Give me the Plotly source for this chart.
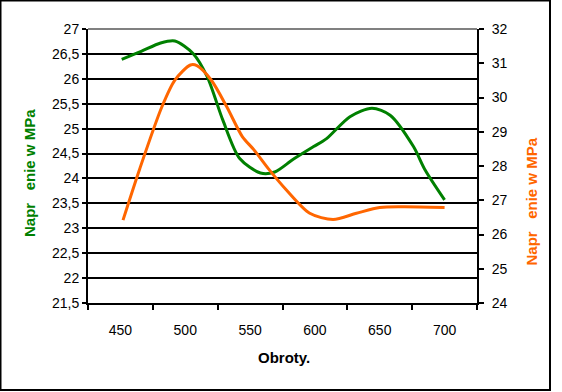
import plotly.graph_objects as go

# Data
rpm_green = [451, 466, 481, 492, 506, 517, 529, 542, 558, 569, 583, 599, 609, 627, 644, 658, 676, 685, 700]
stress_green = [26.39, 26.55, 26.72, 26.76, 26.51, 26.04, 25.17, 24.40, 24.11, 24.13, 24.38, 24.64, 24.80, 25.24, 25.41, 25.27, 24.64, 24.17, 23.57]

rpm_orange = [452, 465, 482, 492, 504, 509, 520, 532, 544, 553, 565, 578, 596, 614, 632, 650, 668, 700]
stress_orange = [26.42, 27.93, 29.73, 30.51, 30.95, 30.93, 30.51, 29.73, 28.86, 28.47, 27.88, 27.30, 26.62, 26.44, 26.62, 26.79, 26.81, 26.79]

x_labels = [450, 500, 550, 600, 650, 700]
left_ticks = [21.5, 22, 22.5, 23, 23.5, 24, 24.5, 25, 25.5, 26, 26.5, 27]
right_ticks = [24, 25, 26, 27, 28, 29, 30, 31, 32]

FONT = "Liberation Sans, Arial, sans-serif"


def fmt(v):
    return str(int(v)) if v == int(v) else str(v).replace(".", ",")


fig = go.Figure()
fig.add_trace(go.Scatter(x=rpm_green, y=stress_green, mode="lines",
                         line=dict(color="#008000", width=3, shape="spline", smoothing=0.8),
                         yaxis="y", showlegend=False, hoverinfo="skip"))
fig.add_trace(go.Scatter(x=rpm_orange, y=stress_orange, mode="lines",
                         line=dict(color="#FF6600", width=3, shape="spline", smoothing=0.8),
                         yaxis="y2", showlegend=False, hoverinfo="skip"))

fig.update_layout(
    width=562, height=392,
    margin=dict(l=88, r=85, t=29, b=89),
    paper_bgcolor="white", plot_bgcolor="white",
    font=dict(family=FONT, size=14, color="black"),
    xaxis=dict(range=[425, 725], tickvals=x_labels, ticktext=[str(v) for v in x_labels],
               ticks="", showgrid=False, zeroline=False,
               showline=True, linecolor="black", linewidth=2,
               ticklabelstandoff=13,
               minor=dict(tickvals=[425, 475, 525, 575, 625, 675, 725], ticks="outside",
                          ticklen=5, tickwidth=2, tickcolor="black", showgrid=False)),
    yaxis=dict(range=[21.5, 27], tickvals=left_ticks,
               ticktext=[fmt(v) for v in left_ticks],
               ticks="outside", ticklen=4, tickwidth=2, tickcolor="black",
               showgrid=True, gridcolor="black", gridwidth=2, zeroline=False,
               showline=True, linecolor="black", linewidth=2),
    yaxis2=dict(range=[24, 32], tickvals=right_ticks, ticktext=[fmt(v) for v in right_ticks],
                overlaying="y", side="right",
                ticks="outside", ticklen=5, tickwidth=2, tickcolor="black",
                ticklabelstandoff=5,
                showgrid=False, zeroline=False,
                showline=True, linecolor="black", linewidth=2),
    shapes=[
        dict(type="line", xref="paper", yref="paper", x0=0, x1=1, y0=1, y1=1,
             line=dict(color="#808080", width=2)),
        dict(type="rect", xref="paper", yref="paper",
             x0=(0.5 - 88) / 389, x1=(550 - 88) / 389,
             y0=(303 - 390) / 274, y1=(303 - 0.5) / 274,
             line=dict(color="black", width=2)),
    ],
    annotations=[
        dict(text="<b>Obroty.</b>", xref="paper", yref="paper", x=(284 - 88) / 389, y=(303 - 357) / 274,
             xanchor="center", yanchor="middle",
             showarrow=False, font=dict(size=15, color="black")),
        dict(text="<b>Napr   enie w MPa</b>", xref="paper", yref="paper", x=(29 - 88) / 389,
             y=(303 - 173) / 274, textangle=-90, showarrow=False,
             xanchor="center", yanchor="middle",
             font=dict(size=15, color="#008000")),
        dict(text="<b>Napr   enie w MPa</b>", xref="paper", yref="paper", x=(531 - 88) / 389,
             y=(303 - 201.5) / 274, textangle=-90, showarrow=False,
             xanchor="center", yanchor="middle",
             font=dict(size=15, color="#FF6600")),
    ],
)

fig.write_html("out.html", config={"displayModeBar": False},
               post_script="document.body.style.margin='0';document.body.style.overflow='hidden';")
